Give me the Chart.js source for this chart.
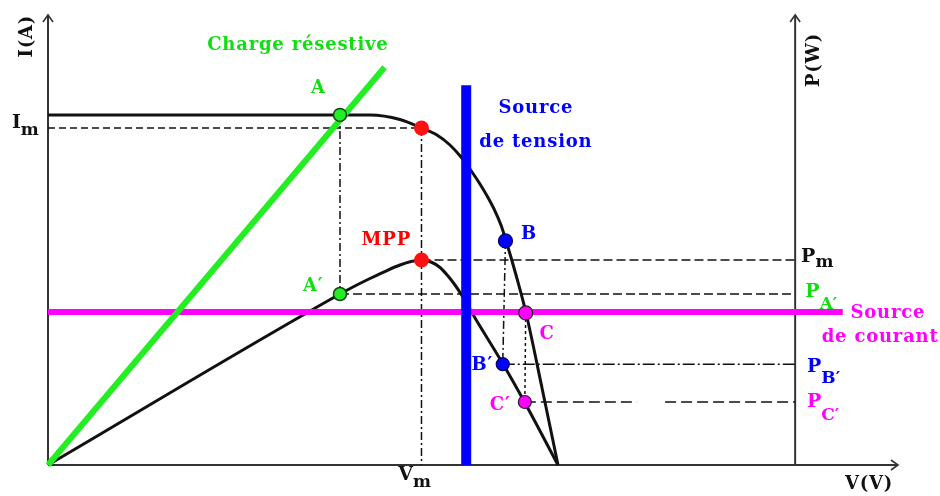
<!DOCTYPE html>
<html><head><meta charset="utf-8">
<script src="https://cdn.jsdelivr.net/npm/chart.js@4"></script>
<style>html,body{margin:0;padding:0;background:#fff}</style>
</head><body>
<canvas id="c" width="940" height="496"></canvas>
<script>
// ---- Data (arbitrary units: V from 0 to 100, I and P from 0 to 100) ----
const ivV = [0, 37.88, 41.41, 43.94, 45.76, 47.29, 48.59, 49.88, 50.82, 51.76, 52.59, 53.29, 53.88, 55.06, 56.24, 58.12, 60];
const ivI = [77.78, 77.78, 76.78, 74.89, 73.33, 71.11, 68.44, 65.11, 62.44, 59.44, 56.44, 53.33, 49.89, 42.22, 33.78, 17.11, 0];
const pvV = [0, 34.35, 35.88, 37.88, 39.88, 41.41, 42.71, 43.94, 45.06, 46.12, 47.06, 47.88, 48.59, 50.24, 53.53, 56.12, 60];
const pvP = [0, 38.0, 39.56, 41.44, 43.22, 44.44, 45.22, 45.56, 45.11, 43.89, 42.0, 40.0, 38.0, 32.67, 22.44, 13.78, 0];
const Vm = 43.94, Im = 74.89, Pm = 45.56;
const loadV = [0, 39.6];
const loadI = [0, 88.4];
const vSourceV = 49.2, vSourceTop = 84.4;
const iSourceI = 34.0, iSourceEnd = 93.5;
const pAxisV = 87.9;
const axisMax = 100;
const opA = [34.35, 77.8];
const opA2 = [34.35, 38.0];
const opB = [53.82, 49.8];
const opB2 = [53.5, 22.4];
const opC = [56.2, 33.8];
const opC2 = [56.1, 14.0];
const cGapV = [69.3, 72.6];

// ---- Annotation texts ----
const labelText = ['Charge résestive', 'A', 'MPP', 'A′', 'Source', 'de tension', 'B', 'C', 'B′', 'C′', 'Source', 'de courant', 'V(V)'];
const labelV    = [29.4, 31.8, 39.8, 31.2, 57.4, 57.4, 56.6, 58.7, 51.1, 53.2, 98.8, 97.9, 96.6];
const labelI    = [93.3, 83.8, 50.0, 39.6, 79.3, 71.8, 51.3, 29.1, 22.2, 13.3, 33.8, 28.4, -4.2];
const labelCol  = ['#11dd11', '#11dd11', '#ff0000', '#11dd11', '#0000ff', '#0000ff', '#0000ff', '#ff00ff', '#0000ff', '#ff00ff', '#ff00ff', '#ff00ff', '#111'];
const subMain   = ['I', 'V', 'P', 'P', 'P', 'P'];
const subText   = ['m', 'm', 'm', 'A′', 'B′', 'C′'];
const subV      = [-4.24, 41.2, 88.6, 89.1, 89.3, 89.3];
const subI      = [74.9, -3.33, 45.1, 37.3, 20.7, 12.9];
const subDrop   = [7, 7, 5, 12, 11, 13];
const subCol    = ['#111', '#111', '#111', '#11dd11', '#0000ff', '#ff00ff'];
const axisTitle = ['I(A)', 'P(W)'];
const axisTitleV = [-2.47, 90.1];
const axisTitleI = [95.3, 90.0];

const pts = (xs, ys) => xs.map((x, i) => ({x, y: ys[i]}));
const P = (a) => ({x: a[0], y: a[1]});

const line = (data, color, width, dash, extra) => Object.assign({
  data, showLine: true, borderColor: color, borderWidth: width, borderDash: dash || [],
  pointRadius: 0, fill: false, clip: false, spanGaps: false
}, extra || {});

const FONT = '"DejaVu Serif", "Liberation Serif", serif';

const textPlugin = {
  id: 'texts',
  afterDraw(chart) {
    const ctx = chart.ctx, xs = chart.scales.x, ys = chart.scales.y;
    const px = v => xs.getPixelForValue(v), py = v => ys.getPixelForValue(v);
    ctx.save();
    // arrowheads
    ctx.strokeStyle = '#333'; ctx.lineWidth = 1.6;
    const arrowUp = (x, y) => { ctx.beginPath(); ctx.moveTo(x - 5, y + 7); ctx.lineTo(x, y); ctx.lineTo(x + 5, y + 7); ctx.stroke(); };
    arrowUp(px(0), py(axisMax));
    arrowUp(px(pAxisV), py(axisMax));
    ctx.beginPath(); ctx.moveTo(px(axisMax) - 7, py(0) - 5); ctx.lineTo(px(axisMax), py(0)); ctx.lineTo(px(axisMax) - 7, py(0) + 5); ctx.stroke();

    ctx.textAlign = 'center'; ctx.textBaseline = 'middle';
    ctx.letterSpacing = '0.8px';
    labelText.forEach((t, i) => {
      ctx.font = 'bold 18px ' + FONT;
      ctx.fillStyle = labelCol[i];
      ctx.fillText(t, px(labelV[i]), py(labelI[i]));
    });
    // subscripted labels
    ctx.letterSpacing = '0px';
    ctx.textAlign = 'left'; ctx.textBaseline = 'alphabetic';
    subMain.forEach((t, i) => {
      ctx.fillStyle = subCol[i];
      ctx.font = 'bold 19px ' + FONT;
      const x = px(subV[i]), y = py(subI[i]);
      ctx.fillText(t, x, y);
      const w = ctx.measureText(t).width;
      ctx.font = 'bold 17px ' + FONT;
      ctx.fillText(subText[i], x + w, y + subDrop[i]);
    });
    // rotated axis titles
    ctx.letterSpacing = '0.8px';
    ctx.textAlign = 'center'; ctx.textBaseline = 'middle';
    axisTitle.forEach((t, i) => {
      ctx.save();
      ctx.translate(px(axisTitleV[i]), py(axisTitleI[i]));
      ctx.rotate(-Math.PI / 2);
      ctx.font = 'bold 18px ' + FONT;
      ctx.fillStyle = '#111';
      ctx.fillText(t, 0, 0);
      ctx.restore();
    });
    ctx.restore();
  }
};

const bgPlugin = {
  id: 'bg',
  beforeDraw(chart) { const c = chart.ctx; c.save(); c.fillStyle = '#fff'; c.fillRect(0, 0, chart.width, chart.height); c.restore(); }
};

const datasets = [
  // operating points (top)
  {data: [{x: Vm, y: Im}, {x: Vm, y: Pm}], pointRadius: 7.5, pointBackgroundColor: '#ff1111', pointBorderWidth: 0, clip: false},
  {data: [P(opA), P(opA2)], pointRadius: 6.5, pointBackgroundColor: '#22ee22', pointBorderColor: '#114411', pointBorderWidth: 1.5, clip: false},
  {data: [P(opB), P(opB2)], pointRadius: [7, 6.5], pointBackgroundColor: '#0000ff', pointBorderColor: '#000066', pointBorderWidth: 1.2, clip: false},
  {data: [P(opC), P(opC2)], pointRadius: [7, 6.5], pointBackgroundColor: '#ff00ff', pointBorderColor: '#222', pointBorderWidth: 1.2, clip: false},
  // sources and load
  line([{x: vSourceV, y: 0}, {x: vSourceV, y: vSourceTop}], '#0000ff', 10),
  line(pts(loadV, loadI), '#22ee22', 6),
  line([{x: 0, y: iSourceI}, {x: iSourceEnd, y: iSourceI}], '#ff00ff', 6),
  // characteristic curves
  line(pts(ivV, ivI), '#111', 3, [], {cubicInterpolationMode: 'monotone'}),
  line(pts(pvV, pvP), '#111', 3, [], {cubicInterpolationMode: 'monotone'}),
  // guide lines
  line([{x: 0, y: Im}, {x: Vm, y: Im}], '#111', 1.5, [7, 4]),
  line([P(opA), P(opA2)], '#111', 1.5, [8, 3, 2, 3]),
  line([{x: Vm, y: Im}, {x: Vm, y: 0}], '#111', 1.5, [8, 3, 2, 3]),
  line([{x: Vm, y: Pm}, {x: pAxisV, y: Pm}], '#111', 1.5, [9, 4]),
  line([P(opA2), {x: pAxisV, y: opA2[1]}], '#111', 1.5, [9, 4]),
  line([P(opB), P(opB2)], '#111', 1.5, [8, 3, 2, 3]),
  line([P(opB2), {x: pAxisV, y: opB2[1]}], '#111', 1.5, [12, 3, 2, 3]),
  line([P(opC), P(opC2)], '#111', 1.5, [3, 3]),
  line([P(opC2), {x: cGapV[0], y: opC2[1]}, {x: 70, y: null}, {x: cGapV[1], y: opC2[1]}, {x: pAxisV, y: opC2[1]}], '#111', 1.5, [11, 5]),
  // axes
  line([{x: 0, y: 0}, {x: 0, y: axisMax}], '#333', 2),
  line([{x: 0, y: 0}, {x: axisMax, y: 0}], '#333', 2),
  line([{x: pAxisV, y: 0}, {x: pAxisV, y: axisMax}], '#333', 2)
];

new Chart(document.getElementById('c'), {
  type: 'scatter',
  data: {datasets},
  options: {
    responsive: false,
    animation: false,
    events: [],
    layout: {padding: {left: 48, right: 42, top: 15, bottom: 31}},
    scales: {
      x: {type: 'linear', min: 0, max: axisMax, display: false},
      y: {type: 'linear', min: 0, max: axisMax, display: false}
    },
    plugins: {legend: {display: false}, tooltip: {enabled: false}}
  },
  plugins: [bgPlugin, textPlugin]
});
</script>
</body></html>
